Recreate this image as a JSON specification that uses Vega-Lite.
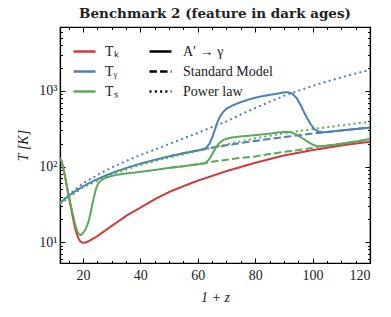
{
  "$schema": "https://vega.github.io/schema/vega-lite/v6.json",
  "autosize": {"type": "none"},
  "width": 310,
  "height": 236,
  "padding": {"left": 60, "top": 27, "right": 21, "bottom": 54},
  "background": "white",
  "title": {"text": "Benchmark 2 (feature in dark ages)", "font": "DejaVu Serif", "fontWeight": "bold", "fontSize": 13.5, "offset": 6, "anchor": "middle", "color": "#222"},
  "config": {
    "view": {"stroke": "black", "strokeWidth": 1.2},
    "axis": {"labelFont": "Liberation Serif", "titleFont": "Liberation Serif", "labelColor": "#222", "titleColor": "#222", "domainColor": "black", "tickColor": "black", "grid": false, "titleFontWeight": "normal"},
    "legend": {"labelFont": "Liberation Serif", "labelFontSize": 14, "labelColor": "#222", "padding": 0}
  },
  "data": {"values": [
    {"s":"Tₖ","m":"A′ → γ","x":12,"T":130},{"s":"Tₖ","m":"A′ → γ","x":12.5,"T":118},{"s":"Tₖ","m":"A′ → γ","x":13,"T":100},{"s":"Tₖ","m":"A′ → γ","x":13.5,"T":82},{"s":"Tₖ","m":"A′ → γ","x":14,"T":66},{"s":"Tₖ","m":"A′ → γ","x":14.5,"T":52},{"s":"Tₖ","m":"A′ → γ","x":15,"T":41},{"s":"Tₖ","m":"A′ → γ","x":15.5,"T":33},{"s":"Tₖ","m":"A′ → γ","x":16,"T":26.5},{"s":"Tₖ","m":"A′ → γ","x":16.5,"T":21},{"s":"Tₖ","m":"A′ → γ","x":17,"T":17},{"s":"Tₖ","m":"A′ → γ","x":17.5,"T":14.2},{"s":"Tₖ","m":"A′ → γ","x":18,"T":12.3},{"s":"Tₖ","m":"A′ → γ","x":18.5,"T":11.1},{"s":"Tₖ","m":"A′ → γ","x":19,"T":10.3},{"s":"Tₖ","m":"A′ → γ","x":19.5,"T":9.95},{"s":"Tₖ","m":"A′ → γ","x":20,"T":9.8},{"s":"Tₖ","m":"A′ → γ","x":21,"T":9.9},{"s":"Tₖ","m":"A′ → γ","x":22,"T":10.3},{"s":"Tₖ","m":"A′ → γ","x":25,"T":12},{"s":"Tₖ","m":"A′ → γ","x":28,"T":14.5},{"s":"Tₖ","m":"A′ → γ","x":32,"T":18.5},{"s":"Tₖ","m":"A′ → γ","x":36,"T":23.5},{"s":"Tₖ","m":"A′ → γ","x":40,"T":28.5},{"s":"Tₖ","m":"A′ → γ","x":45,"T":37},{"s":"Tₖ","m":"A′ → γ","x":50,"T":46},{"s":"Tₖ","m":"A′ → γ","x":55,"T":55},{"s":"Tₖ","m":"A′ → γ","x":60,"T":65},{"s":"Tₖ","m":"A′ → γ","x":70,"T":87},{"s":"Tₖ","m":"A′ → γ","x":80,"T":112},{"s":"Tₖ","m":"A′ → γ","x":90,"T":140},{"s":"Tₖ","m":"A′ → γ","x":100,"T":165},{"s":"Tₖ","m":"A′ → γ","x":110,"T":190},{"s":"Tₖ","m":"A′ → γ","x":120,"T":213},

    {"s":"Tᵧ","m":"A′ → γ","x":12,"T":32.7},{"s":"Tᵧ","m":"A′ → γ","x":14,"T":38.15},{"s":"Tᵧ","m":"A′ → γ","x":16,"T":43.6},{"s":"Tᵧ","m":"A′ → γ","x":18,"T":49.05},{"s":"Tᵧ","m":"A′ → γ","x":20,"T":54.5},{"s":"Tᵧ","m":"A′ → γ","x":24,"T":65.4},{"s":"Tᵧ","m":"A′ → γ","x":28,"T":76.3},{"s":"Tᵧ","m":"A′ → γ","x":32,"T":87.2},{"s":"Tᵧ","m":"A′ → γ","x":36,"T":98.1},{"s":"Tᵧ","m":"A′ → γ","x":40,"T":109},{"s":"Tᵧ","m":"A′ → γ","x":45,"T":122.6},{"s":"Tᵧ","m":"A′ → γ","x":50,"T":136.25},{"s":"Tᵧ","m":"A′ → γ","x":55,"T":149.9},{"s":"Tᵧ","m":"A′ → γ","x":60,"T":163.5},{"s":"Tᵧ","m":"A′ → γ","x":62,"T":169},{"s":"Tᵧ","m":"A′ → γ","x":63,"T":178},{"s":"Tᵧ","m":"A′ → γ","x":64,"T":198},{"s":"Tᵧ","m":"A′ → γ","x":65,"T":240},{"s":"Tᵧ","m":"A′ → γ","x":66,"T":310},{"s":"Tᵧ","m":"A′ → γ","x":67,"T":400},{"s":"Tᵧ","m":"A′ → γ","x":68,"T":475},{"s":"Tᵧ","m":"A′ → γ","x":69,"T":535},{"s":"Tᵧ","m":"A′ → γ","x":70,"T":580},{"s":"Tᵧ","m":"A′ → γ","x":72,"T":640},{"s":"Tᵧ","m":"A′ → γ","x":75,"T":710},{"s":"Tᵧ","m":"A′ → γ","x":78,"T":775},{"s":"Tᵧ","m":"A′ → γ","x":82,"T":845},{"s":"Tᵧ","m":"A′ → γ","x":85,"T":885},{"s":"Tᵧ","m":"A′ → γ","x":88,"T":925},{"s":"Tᵧ","m":"A′ → γ","x":90,"T":955},{"s":"Tᵧ","m":"A′ → γ","x":91.5,"T":962},{"s":"Tᵧ","m":"A′ → γ","x":93,"T":915},{"s":"Tᵧ","m":"A′ → γ","x":94.5,"T":800},{"s":"Tᵧ","m":"A′ → γ","x":96,"T":630},{"s":"Tᵧ","m":"A′ → γ","x":97.5,"T":480},{"s":"Tᵧ","m":"A′ → γ","x":99,"T":380},{"s":"Tᵧ","m":"A′ → γ","x":100.5,"T":315},{"s":"Tᵧ","m":"A′ → γ","x":102,"T":288},{"s":"Tᵧ","m":"A′ → γ","x":104,"T":283.4},{"s":"Tᵧ","m":"A′ → γ","x":110,"T":299.75},{"s":"Tᵧ","m":"A′ → γ","x":115,"T":313.4},{"s":"Tᵧ","m":"A′ → γ","x":120,"T":327},

    {"s":"Tᵧ","m":"Standard Model","x":50,"T":136.25},{"s":"Tᵧ","m":"Standard Model","x":55,"T":149.9},{"s":"Tᵧ","m":"Standard Model","x":60,"T":163.5},{"s":"Tᵧ","m":"Standard Model","x":65,"T":177.1},{"s":"Tᵧ","m":"Standard Model","x":70,"T":190.75},{"s":"Tᵧ","m":"Standard Model","x":75,"T":204.4},{"s":"Tᵧ","m":"Standard Model","x":80,"T":218},{"s":"Tᵧ","m":"Standard Model","x":85,"T":231.6},{"s":"Tᵧ","m":"Standard Model","x":90,"T":245.25},{"s":"Tᵧ","m":"Standard Model","x":95,"T":258.9},{"s":"Tᵧ","m":"Standard Model","x":100,"T":272.5},{"s":"Tᵧ","m":"Standard Model","x":105,"T":286.1},{"s":"Tᵧ","m":"Standard Model","x":110,"T":299.75},{"s":"Tᵧ","m":"Standard Model","x":115,"T":313.4},{"s":"Tᵧ","m":"Standard Model","x":120,"T":327},

    {"s":"Tᵧ","m":"Power law","x":12,"T":33},{"s":"Tᵧ","m":"Power law","x":15,"T":42},{"s":"Tᵧ","m":"Power law","x":20,"T":60},{"s":"Tᵧ","m":"Power law","x":25,"T":77},{"s":"Tᵧ","m":"Power law","x":30,"T":97},{"s":"Tᵧ","m":"Power law","x":35,"T":118},{"s":"Tᵧ","m":"Power law","x":40,"T":142},{"s":"Tᵧ","m":"Power law","x":45,"T":167},{"s":"Tᵧ","m":"Power law","x":50,"T":199},{"s":"Tᵧ","m":"Power law","x":55,"T":235},{"s":"Tᵧ","m":"Power law","x":60,"T":278},{"s":"Tᵧ","m":"Power law","x":65,"T":333},{"s":"Tᵧ","m":"Power law","x":70,"T":394},{"s":"Tᵧ","m":"Power law","x":75,"T":488},{"s":"Tᵧ","m":"Power law","x":80,"T":595},{"s":"Tᵧ","m":"Power law","x":85,"T":716},{"s":"Tᵧ","m":"Power law","x":90,"T":859},{"s":"Tᵧ","m":"Power law","x":95,"T":1002},{"s":"Tᵧ","m":"Power law","x":100,"T":1164},{"s":"Tᵧ","m":"Power law","x":105,"T":1335},{"s":"Tᵧ","m":"Power law","x":110,"T":1510},{"s":"Tᵧ","m":"Power law","x":115,"T":1700},{"s":"Tᵧ","m":"Power law","x":120,"T":1897},

    {"s":"Tₛ","m":"A′ → γ","x":12,"T":130},{"s":"Tₛ","m":"A′ → γ","x":12.5,"T":118},{"s":"Tₛ","m":"A′ → γ","x":13,"T":100},{"s":"Tₛ","m":"A′ → γ","x":13.5,"T":82},{"s":"Tₛ","m":"A′ → γ","x":14,"T":66},{"s":"Tₛ","m":"A′ → γ","x":14.5,"T":52},{"s":"Tₛ","m":"A′ → γ","x":15,"T":42},{"s":"Tₛ","m":"A′ → γ","x":15.5,"T":34},{"s":"Tₛ","m":"A′ → γ","x":16,"T":28},{"s":"Tₛ","m":"A′ → γ","x":16.5,"T":23},{"s":"Tₛ","m":"A′ → γ","x":17,"T":19},{"s":"Tₛ","m":"A′ → γ","x":17.5,"T":16},{"s":"Tₛ","m":"A′ → γ","x":18,"T":14},{"s":"Tₛ","m":"A′ → γ","x":18.5,"T":12.8},{"s":"Tₛ","m":"A′ → γ","x":19,"T":12.4},{"s":"Tₛ","m":"A′ → γ","x":19.5,"T":12.5},{"s":"Tₛ","m":"A′ → γ","x":20,"T":13.2},{"s":"Tₛ","m":"A′ → γ","x":21,"T":15},{"s":"Tₛ","m":"A′ → γ","x":22,"T":19},{"s":"Tₛ","m":"A′ → γ","x":22.5,"T":23},{"s":"Tₛ","m":"A′ → γ","x":23,"T":28},{"s":"Tₛ","m":"A′ → γ","x":23.5,"T":35},{"s":"Tₛ","m":"A′ → γ","x":24,"T":42},{"s":"Tₛ","m":"A′ → γ","x":24.5,"T":50},{"s":"Tₛ","m":"A′ → γ","x":25,"T":56},{"s":"Tₛ","m":"A′ → γ","x":25.5,"T":61},{"s":"Tₛ","m":"A′ → γ","x":26,"T":64},{"s":"Tₛ","m":"A′ → γ","x":27,"T":68},{"s":"Tₛ","m":"A′ → γ","x":28,"T":71},{"s":"Tₛ","m":"A′ → γ","x":30,"T":75},{"s":"Tₛ","m":"A′ → γ","x":32,"T":78},{"s":"Tₛ","m":"A′ → γ","x":35,"T":81},{"s":"Tₛ","m":"A′ → γ","x":40,"T":85},{"s":"Tₛ","m":"A′ → γ","x":45,"T":90},{"s":"Tₛ","m":"A′ → γ","x":50,"T":96},{"s":"Tₛ","m":"A′ → γ","x":55,"T":101},{"s":"Tₛ","m":"A′ → γ","x":60,"T":107},{"s":"Tₛ","m":"A′ → γ","x":62,"T":110},{"s":"Tₛ","m":"A′ → γ","x":63,"T":114},{"s":"Tₛ","m":"A′ → γ","x":64,"T":125},{"s":"Tₛ","m":"A′ → γ","x":65,"T":145},{"s":"Tₛ","m":"A′ → γ","x":66,"T":170},{"s":"Tₛ","m":"A′ → γ","x":67,"T":195},{"s":"Tₛ","m":"A′ → γ","x":68,"T":212},{"s":"Tₛ","m":"A′ → γ","x":69,"T":225},{"s":"Tₛ","m":"A′ → γ","x":70,"T":233},{"s":"Tₛ","m":"A′ → γ","x":72,"T":242},{"s":"Tₛ","m":"A′ → γ","x":75,"T":250},{"s":"Tₛ","m":"A′ → γ","x":80,"T":260},{"s":"Tₛ","m":"A′ → γ","x":85,"T":272},{"s":"Tₛ","m":"A′ → γ","x":88,"T":282},{"s":"Tₛ","m":"A′ → γ","x":91,"T":288},{"s":"Tₛ","m":"A′ → γ","x":92.5,"T":283},{"s":"Tₛ","m":"A′ → γ","x":94,"T":268},{"s":"Tₛ","m":"A′ → γ","x":95.5,"T":250},{"s":"Tₛ","m":"A′ → γ","x":97,"T":230},{"s":"Tₛ","m":"A′ → γ","x":98.5,"T":210},{"s":"Tₛ","m":"A′ → γ","x":100,"T":195},{"s":"Tₛ","m":"A′ → γ","x":101.5,"T":186},{"s":"Tₛ","m":"A′ → γ","x":103,"T":185},{"s":"Tₛ","m":"A′ → γ","x":106,"T":191},{"s":"Tₛ","m":"A′ → γ","x":110,"T":200},{"s":"Tₛ","m":"A′ → γ","x":115,"T":214},{"s":"Tₛ","m":"A′ → γ","x":120,"T":231},

    {"s":"Tₛ","m":"Standard Model","x":50,"T":96},{"s":"Tₛ","m":"Standard Model","x":55,"T":101},{"s":"Tₛ","m":"Standard Model","x":60,"T":107},{"s":"Tₛ","m":"Standard Model","x":62,"T":110},{"s":"Tₛ","m":"Standard Model","x":65,"T":116},{"s":"Tₛ","m":"Standard Model","x":70,"T":123},{"s":"Tₛ","m":"Standard Model","x":75,"T":130},{"s":"Tₛ","m":"Standard Model","x":80,"T":136},{"s":"Tₛ","m":"Standard Model","x":85,"T":146},{"s":"Tₛ","m":"Standard Model","x":90,"T":156},{"s":"Tₛ","m":"Standard Model","x":95,"T":165},{"s":"Tₛ","m":"Standard Model","x":99,"T":174},{"s":"Tₛ","m":"Standard Model","x":101.5,"T":183},{"s":"Tₛ","m":"Standard Model","x":103,"T":185},{"s":"Tₛ","m":"Standard Model","x":106,"T":191},{"s":"Tₛ","m":"Standard Model","x":110,"T":200},{"s":"Tₛ","m":"Standard Model","x":115,"T":214},{"s":"Tₛ","m":"Standard Model","x":120,"T":231},

    {"s":"Tₛ","m":"Power law","x":12,"T":32},{"s":"Tₛ","m":"Power law","x":20,"T":53},{"s":"Tₛ","m":"Power law","x":30,"T":79},{"s":"Tₛ","m":"Power law","x":40,"T":105},{"s":"Tₛ","m":"Power law","x":50,"T":132},{"s":"Tₛ","m":"Power law","x":60,"T":160},{"s":"Tₛ","m":"Power law","x":65,"T":178},{"s":"Tₛ","m":"Power law","x":70,"T":196},{"s":"Tₛ","m":"Power law","x":80,"T":236},{"s":"Tₛ","m":"Power law","x":90,"T":275},{"s":"Tₛ","m":"Power law","x":100,"T":312},{"s":"Tₛ","m":"Power law","x":110,"T":350},{"s":"Tₛ","m":"Power law","x":120,"T":392}
  ]},
  "layer": [
    {
      "mark": {"type": "line", "strokeWidth": 2, "clip": true},
      "encoding": {
        "x": {"field": "x", "type": "quantitative", "scale": {"domain": [12, 120], "nice": false, "zero": false},
              "axis": {"title": "1 + z", "titleFontSize": 14, "titleFontStyle": "italic", "titlePadding": 8, "labelFontSize": 14, "labelPadding": 10,
                       "values": [15,20,25,30,35,40,45,50,55,60,65,70,75,80,85,90,95,100,105,110,115,120],
                       "labelExpr": "datum.value % 20 == 0 ? datum.label : ''",
                       "tickSize": {"condition": {"test": "datum.value % 20 == 0", "value": -5}, "value": -2.5},
                       "domainWidth": 1.2, "tickWidth": 1}},
        "y": {"field": "T", "type": "quantitative", "scale": {"type": "log", "domain": [5.3, 7000], "nice": false},
              "axis": {"title": "T [K]", "titleFontSize": 14, "titleFontStyle": "italic", "titlePadding": 8, "labelFontSize": 14, "labelPadding": 8,
                       "values": [6,7,8,9,10,20,30,40,50,60,70,80,90,100,200,300,400,500,600,700,800,900,1000,2000,3000,4000,5000,6000,7000],
                       "labelExpr": "datum.value == 10 ? '10¹' : datum.value == 100 ? '10²' : datum.value == 1000 ? '10³' : ''",
                       "tickSize": {"condition": {"test": "datum.value == 10 || datum.value == 100 || datum.value == 1000", "value": -5}, "value": -2.5},
                       "domainWidth": 1.2, "tickWidth": 1}},
        "color": {"field": "s", "type": "nominal", "scale": {"domain": ["Tₖ", "Tᵧ", "Tₛ"], "range": ["#d0393b", "#4b81b3", "#5aa85a"]},
                  "legend": {"title": null, "orient": "none", "legendX": 12, "legendY": 12, "symbolType": "stroke", "symbolSize": 484, "symbolStrokeWidth": 2.5, "labelOffset": 8, "rowPadding": 0}},
        "strokeDash": {"field": "m", "type": "nominal", "scale": {"domain": ["A′ → γ", "Standard Model", "Power law"], "range": [[1, 0], [7.4, 3.2], [2, 3.3]]},
                       "legend": {"title": null, "orient": "none", "legendX": 88, "legendY": 12, "symbolType": "stroke", "symbolSize": 484, "symbolStrokeWidth": 2.5, "symbolStrokeColor": "black", "labelOffset": 10, "rowPadding": 0}}
      }
    },
    {
      "mark": {"type": "line", "opacity": 0},
      "encoding": {
        "x": {"field": "x", "type": "quantitative", "scale": {"domain": [12, 120], "nice": false, "zero": false},
              "axis": {"title": null, "labels": false, "orient": "top",
                       "values": [15,20,25,30,35,40,45,50,55,60,65,70,75,80,85,90,95,100,105,110,115,120],
                       "tickSize": {"condition": {"test": "datum.value % 20 == 0", "value": -5}, "value": -2.5},
                       "domainWidth": 1.2, "tickWidth": 1}},
        "y": {"field": "T", "type": "quantitative", "scale": {"type": "log", "domain": [5.3, 7000], "nice": false},
              "axis": {"title": null, "labels": false, "orient": "right",
                       "values": [6,7,8,9,10,20,30,40,50,60,70,80,90,100,200,300,400,500,600,700,800,900,1000,2000,3000,4000,5000,6000,7000],
                       "tickSize": {"condition": {"test": "datum.value == 10 || datum.value == 100 || datum.value == 1000", "value": -5}, "value": -2.5},
                       "domainWidth": 1.2, "tickWidth": 1}},
        "detail": {"field": "s"}
      }
    }
  ],
  "resolve": {"axis": {"x": "independent", "y": "independent"}}
}
